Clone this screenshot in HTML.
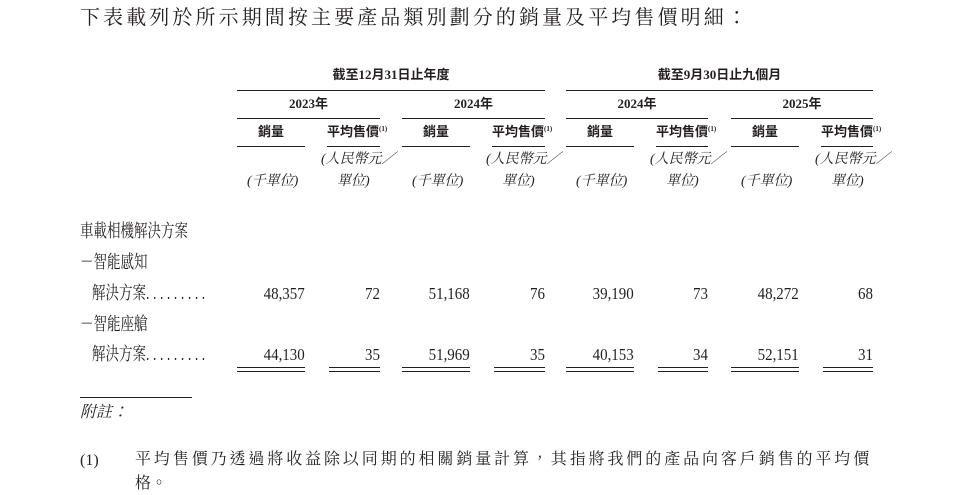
<!DOCTYPE html>
<html><head><meta charset="utf-8"><style>
body{margin:0;width:955px;height:495px;background:#fff;position:relative;overflow:hidden;font-family:"Liberation Serif","Noto Serif CJK TC","Noto Serif CJK SC",serif;color:#231f20}
.t{position:absolute;white-space:nowrap;line-height:1}
.h{font-family:"Liberation Serif","Noto Sans CJK TC",sans-serif;font-weight:bold;font-size:13px}
.i{font-style:italic;font-size:14px}
.l{position:absolute;height:1px;background:#231f20}
.n{position:absolute;font-size:17px;line-height:1;text-align:right;white-space:nowrap;transform:scaleX(0.88);transform-origin:right}
.c{text-align:center}
.r{font-size:18px;transform:scaleX(0.75);transform-origin:left}
.d{letter-spacing:4.8px}
sup{font-size:7px;vertical-align:5px}
</style></head><body>
<div class="t" style="left:80px;top:8px;font-size:20px;letter-spacing:3.1px">下表載列於所示期間按主要產品類別劃分的銷量及平均售價明細：</div>

<div class="t h c" style="left:237px;width:308px;top:68px">截至12月31日止年度</div>
<div class="l" style="left:237px;width:308px;top:90px"></div>
<div class="t h c" style="left:566px;width:307px;top:68px">截至9月30日止九個月</div>
<div class="l" style="left:566px;width:307px;top:90px"></div>

<div class="t h c" style="left:237px;width:143px;top:97px">2023年</div>
<div class="l" style="left:237px;width:143px;top:118px"></div>
<div class="t h c" style="left:402px;width:143px;top:97px">2024年</div>
<div class="l" style="left:402px;width:143px;top:118px"></div>
<div class="t h c" style="left:566px;width:142px;top:97px">2024年</div>
<div class="l" style="left:566px;width:142px;top:118px"></div>
<div class="t h c" style="left:731px;width:142px;top:97px">2025年</div>
<div class="l" style="left:731px;width:142px;top:118px"></div>

<div class="t h c" style="left:237px;width:68px;top:125px">銷量</div>
<div class="l" style="left:237px;width:68px;top:146px"></div>
<div class="t h" style="left:327px;top:125px">平均售價<sup>(1)</sup></div>
<div class="l" style="left:327px;width:53px;top:146px"></div>
<div class="t h c" style="left:402px;width:68px;top:125px">銷量</div>
<div class="l" style="left:402px;width:68px;top:146px"></div>
<div class="t h" style="left:492px;top:125px">平均售價<sup>(1)</sup></div>
<div class="l" style="left:492px;width:53px;top:146px"></div>
<div class="t h c" style="left:566px;width:68px;top:125px">銷量</div>
<div class="l" style="left:566px;width:68px;top:146px"></div>
<div class="t h" style="left:656px;top:125px">平均售價<sup>(1)</sup></div>
<div class="l" style="left:656px;width:52px;top:146px"></div>
<div class="t h c" style="left:731px;width:68px;top:125px">銷量</div>
<div class="l" style="left:731px;width:68px;top:146px"></div>
<div class="t h" style="left:821px;top:125px">平均售價<sup>(1)</sup></div>
<div class="l" style="left:821px;width:52px;top:146px"></div>

<div class="t i" style="left:321px;top:153px">(人民幣元／</div>
<div class="t i" style="left:486px;top:153px">(人民幣元／</div>
<div class="t i" style="left:650px;top:153px">(人民幣元／</div>
<div class="t i" style="left:815px;top:153px">(人民幣元／</div>
<div class="t i" style="left:337px;top:175px">單位)</div>
<div class="t i" style="left:502px;top:175px">單位)</div>
<div class="t i" style="left:666px;top:175px">單位)</div>
<div class="t i" style="left:831px;top:175px">單位)</div>
<div class="t i" style="left:247px;top:175px">(千單位)</div>
<div class="t i" style="left:412px;top:175px">(千單位)</div>
<div class="t i" style="left:576px;top:175px">(千單位)</div>
<div class="t i" style="left:741px;top:175px">(千單位)</div>

<div class="t r" style="left:80px;top:222px">車載相機解決方案</div>
<div class="t r" style="left:80px;top:253px">－智能感知</div>
<div class="t r" style="left:92px;top:284px">解決方案<span class="d">.........</span></div>
<div class="t r" style="left:80px;top:315px">－智能座艙</div>
<div class="t r" style="left:92px;top:345px">解決方案<span class="d">.........</span></div>

<div class="n" style="right:650px;top:285px">48,357</div>
<div class="n" style="right:575px;top:285px">72</div>
<div class="n" style="right:485px;top:285px">51,168</div>
<div class="n" style="right:410px;top:285px">76</div>
<div class="n" style="right:321px;top:285px">39,190</div>
<div class="n" style="right:247px;top:285px">73</div>
<div class="n" style="right:156px;top:285px">48,272</div>
<div class="n" style="right:82px;top:285px">68</div>

<div class="n" style="right:650px;top:346px">44,130</div>
<div class="n" style="right:575px;top:346px">35</div>
<div class="n" style="right:485px;top:346px">51,969</div>
<div class="n" style="right:410px;top:346px">35</div>
<div class="n" style="right:321px;top:346px">40,153</div>
<div class="n" style="right:247px;top:346px">34</div>
<div class="n" style="right:156px;top:346px">52,151</div>
<div class="n" style="right:82px;top:346px">31</div>

<div class="l" style="left:237px;width:68px;top:367px"></div><div class="l" style="left:237px;width:68px;top:371px"></div>
<div class="l" style="left:329px;width:51px;top:367px"></div><div class="l" style="left:329px;width:51px;top:371px"></div>
<div class="l" style="left:402px;width:68px;top:367px"></div><div class="l" style="left:402px;width:68px;top:371px"></div>
<div class="l" style="left:494px;width:51px;top:367px"></div><div class="l" style="left:494px;width:51px;top:371px"></div>
<div class="l" style="left:566px;width:68px;top:367px"></div><div class="l" style="left:566px;width:68px;top:371px"></div>
<div class="l" style="left:658px;width:50px;top:367px"></div><div class="l" style="left:658px;width:50px;top:371px"></div>
<div class="l" style="left:731px;width:68px;top:367px"></div><div class="l" style="left:731px;width:68px;top:371px"></div>
<div class="l" style="left:823px;width:50px;top:367px"></div><div class="l" style="left:823px;width:50px;top:371px"></div>

<div class="l" style="left:80px;width:112px;top:397px"></div>
<div class="t" style="left:80px;top:405px;font-size:16px;font-style:italic">附註：</div>
<div class="t" style="left:80px;top:453px;font-size:16px">(1)</div>
<div class="t" style="left:135px;top:452px;font-size:16px;letter-spacing:2.9px">平均售價乃透過將收益除以同期的相關銷量計算，其指將我們的產品向客戶銷售的平均價</div>
<div class="t" style="left:135px;top:476px;font-size:16px">格。</div>
</body></html>
